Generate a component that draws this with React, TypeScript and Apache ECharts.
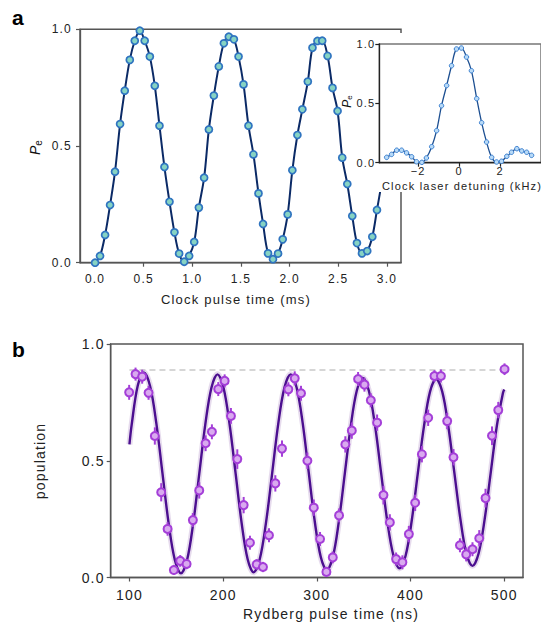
import React, { useEffect, useRef } from 'react';
import * as echarts from 'echarts';

const FONT = '"Liberation Sans", Arial, sans-serif';

// ---- Panel a: clock Rabi oscillation ----
const clockTimeMs = [0.0, 0.051, 0.103, 0.154, 0.205, 0.257, 0.305, 0.357, 0.408, 0.46, 0.51, 0.563, 0.614, 0.662, 0.713, 0.765, 0.816, 0.864, 0.916, 0.967, 1.019, 1.067, 1.121, 1.17, 1.221, 1.272, 1.324, 1.375, 1.427, 1.475, 1.526, 1.577, 1.628, 1.68, 1.727, 1.778, 1.829, 1.881, 1.929, 1.98, 2.028, 2.08, 2.131, 2.187, 2.235, 2.286, 2.335, 2.39, 2.441, 2.493, 2.541, 2.593, 2.644, 2.692, 2.744, 2.798, 2.85, 2.898];
const clockPe = [0.0, 0.029, 0.119, 0.247, 0.39, 0.594, 0.737, 0.869, 0.951, 0.994, 0.951, 0.883, 0.758, 0.587, 0.41, 0.261, 0.13, 0.039, 0.004, 0.029, 0.089, 0.236, 0.364, 0.571, 0.716, 0.841, 0.94, 0.968, 0.957, 0.883, 0.764, 0.587, 0.464, 0.297, 0.166, 0.04, 0.015, 0.039, 0.1, 0.207, 0.396, 0.547, 0.657, 0.776, 0.921, 0.95, 0.951, 0.886, 0.749, 0.65, 0.45, 0.337, 0.2, 0.084, 0.04, 0.05, 0.111, 0.226];
const clockCurveTailT = [2.95];
const clockCurveTailP = [0.35];
const clockTicks = [0, 0.5, 1.0, 1.5, 2.0, 2.5, 3.0];

// ---- Panel a inset: detuning scan ----
const detuningKHz = [-3.54, -3.3, -3.05, -2.81, -2.57, -2.32, -2.08, -1.82, -1.6, -1.34, -1.1, -0.86, -0.61, -0.37, -0.13, 0.11, 0.36, 0.6, 0.86, 1.1, 1.34, 1.59, 1.83, 2.07, 2.33, 2.56, 2.82, 3.06, 3.3, 3.54];
const detuningPe = [0.045, 0.07, 0.105, 0.105, 0.083, 0.05, 0.008, 0.003, 0.04, 0.135, 0.27, 0.48, 0.65, 0.817, 0.958, 0.966, 0.89, 0.775, 0.54, 0.337, 0.174, 0.045, 0.006, 0.012, 0.054, 0.088, 0.118, 0.099, 0.088, 0.062];
const detuningTicks = [-2, 0, 2];

// ---- Panel b: Rydberg Rabi oscillation ----
const rydTimeNs = [99.7, 106.5, 113.6, 120.4, 127.1, 133.9, 140.7, 147.4, 154.2, 161.0, 167.7, 174.5, 181.3, 188.0, 194.8, 201.6, 208.3, 215.1, 221.9, 228.6, 235.8, 242.5, 248.9, 255.7, 262.8, 269.6, 276.4, 283.1, 289.9, 296.7, 303.4, 310.2, 317.0, 323.7, 330.4, 337.3, 344.0, 350.8, 357.6, 364.3, 371.1, 377.9, 384.6, 391.3, 398.2, 404.9, 412.1, 418.8, 425.5, 432.4, 439.1, 445.8, 452.7, 459.4, 466.1, 473.3, 480.0, 486.9, 493.6, 500.3];
const rydPop = [0.793, 0.871, 0.86, 0.791, 0.606, 0.365, 0.208, 0.032, 0.071, 0.058, 0.246, 0.373, 0.575, 0.624, 0.807, 0.842, 0.692, 0.507, 0.31, 0.149, 0.056, 0.045, 0.181, 0.403, 0.552, 0.806, 0.853, 0.789, 0.5, 0.299, 0.165, 0.024, 0.086, 0.266, 0.57, 0.629, 0.85, 0.826, 0.759, 0.663, 0.353, 0.236, 0.079, 0.065, 0.186, 0.32, 0.528, 0.684, 0.863, 0.863, 0.67, 0.515, 0.138, 0.099, 0.121, 0.168, 0.34, 0.607, 0.717, 0.892];
const rydErr = [0.032, 0.028, 0.03, 0.03, 0.037, 0.039, 0.029, 0.02, 0.025, 0.022, 0.03, 0.035, 0.034, 0.032, 0.03, 0.028, 0.034, 0.042, 0.035, 0.03, 0.022, 0.022, 0.03, 0.035, 0.035, 0.03, 0.03, 0.032, 0.035, 0.035, 0.03, 0.02, 0.025, 0.03, 0.035, 0.035, 0.03, 0.03, 0.03, 0.035, 0.04, 0.035, 0.028, 0.03, 0.035, 0.035, 0.035, 0.035, 0.025, 0.028, 0.035, 0.035, 0.03, 0.03, 0.03, 0.035, 0.04, 0.04, 0.035, 0.025];
const rydFitT = [100, 102.4, 108.9, 115.4, 122.0, 128.6, 135.2, 141.8, 148.4, 155.0, 161.5, 168.0, 174.5, 181.0, 187.5, 194.0, 200.4, 206.8, 213.3, 219.7, 226.1, 232.5, 239.1, 245.7, 252.3, 258.8, 265.4, 272.0, 278.4, 284.9, 291.3, 297.7, 304.2, 310.6, 317.0, 323.4, 329.8, 336.2, 342.6, 349.0, 355.5, 362.1, 368.6, 375.1, 381.7, 388.2, 394.7, 401.2, 407.7, 414.3, 420.8, 427.3, 433.8, 440.2, 446.7, 453.2, 459.6, 466.1, 472.6, 479.1, 485.6, 492.1, 498.6, 500];
const rydFitV = [0.57, 0.655, 0.822, 0.878, 0.82, 0.663, 0.448, 0.233, 0.076, 0.018, 0.075, 0.231, 0.444, 0.657, 0.813, 0.87, 0.813, 0.658, 0.446, 0.234, 0.079, 0.022, 0.079, 0.234, 0.446, 0.658, 0.813, 0.87, 0.814, 0.661, 0.451, 0.242, 0.088, 0.032, 0.087, 0.238, 0.444, 0.649, 0.8, 0.855, 0.8, 0.651, 0.447, 0.243, 0.094, 0.039, 0.093, 0.242, 0.445, 0.647, 0.796, 0.85, 0.796, 0.65, 0.45, 0.25, 0.103, 0.05, 0.103, 0.25, 0.45, 0.65, 0.79, 0.805];
const rydRefLevel = 0.889;
const rydRefRange = [100, 500];
const rydTicks = [100, 200, 300, 400, 500];

const popTicks = [0, 0.5, 1.0];

const zip = (a: number[], b: number[]) => a.map((v, i) => [v, b[i]]);

function valueAxis(grid: number, min: number, max: number, ticks: number[], fmt: (v: number) => string, fontSize: number, margin: number, color: string, z = 0) {
  return {
    gridIndex: grid,
    type: 'value',
    min,
    max,
    z,
    axisLine: { show: true, onZero: false, lineStyle: { color, width: 1.3 } },
    axisTick: { show: true, length: 4, lineStyle: { color, width: 1.2 }, customValues: ticks },
    axisLabel: { customValues: ticks, formatter: fmt, fontSize, color: '#222', margin, fontFamily: FONT },
    splitLine: { show: false },
  };
}

function buildOption() {
  const fmt1 = (v: number) => v.toFixed(1);
  const fmtMinus = (v: number) => (v < 0 ? '\u2212' + Math.abs(v) : String(v));
  const peRich = (size: number) => ({
    p: { fontStyle: 'italic', fontSize: size, fontFamily: FONT, fill: '#111', color: '#111' },
    s: { fontSize: Math.round(size * 0.7), fontFamily: FONT, padding: [Math.round(size * 0.45), 0, 0, 0], fill: '#111', color: '#111' },
  });
  return {
    animation: false,
    backgroundColor: '#fff',
    grid: [
      { left: 80, top: 29.3, width: 321, height: 233.4, show: true, borderColor: '#555', borderWidth: 1.5 },
      { left: 379.3, top: 44, width: 165, height: 118.7, show: true, borderColor: '#777', borderWidth: 1.5, z: 20 },
      { left: 110.7, top: 344, width: 412.3, height: 233.5, show: true, borderColor: '#555', borderWidth: 1.5 },
    ],
    xAxis: [
      valueAxis(0, -0.155, 3.145, clockTicks, fmt1, 12, 10, '#555'),
      valueAxis(1, -3.9, 4.0, detuningTicks, fmtMinus, 11, 3, '#222', 20),
      valueAxis(2, 80, 520, rydTicks, (v: number) => String(v), 14, 10, '#555'),
    ],
    yAxis: [
      valueAxis(0, 0, 1, popTicks, fmt1, 12, 8, '#555'),
      valueAxis(1, 0, 1, popTicks, fmt1, 11, 4, '#222', 20),
      valueAxis(2, 0, 1, popTicks, fmt1, 14, 6, '#555'),
    ],
    graphic: [
      { type: 'rect', z: 10, shape: { x: 353, y: 33, width: 188, height: 159 }, style: { fill: '#fff' } },
      { type: 'text', z: 30, x: 12, y: 17, style: { text: 'a', fontSize: 21, fontWeight: 'bold', fontFamily: FONT, fill: '#000', align: 'left', verticalAlign: 'middle' } },
      { type: 'text', z: 30, x: 12, y: 349, style: { text: 'b', fontSize: 21, fontWeight: 'bold', fontFamily: FONT, fill: '#000', align: 'left', verticalAlign: 'middle' } },
      { type: 'text', z: 30, x: 35, y: 147, rotation: Math.PI / 2, style: { text: '{p|P}{s|e}', rich: peRich(14), align: 'center', verticalAlign: 'middle' } },
      { type: 'text', z: 30, x: 236, y: 299, style: { text: 'Clock pulse time (ms)', fontSize: 13, fontFamily: FONT, fill: '#222', align: 'center', verticalAlign: 'middle' } },
      { type: 'text', z: 30, x: 347, y: 101, rotation: Math.PI / 2, style: { text: '{p|P}{s|e}', rich: peRich(12), align: 'center', verticalAlign: 'middle' } },
      { type: 'text', z: 30, x: 462, y: 186, style: { text: 'Clock laser detuning (kHz)', fontSize: 11, fontFamily: FONT, fill: '#222', align: 'center', verticalAlign: 'middle' } },
      { type: 'text', z: 30, x: 40, y: 461, rotation: Math.PI / 2, style: { text: 'population', fontSize: 14, fontFamily: FONT, fill: '#222', align: 'center', verticalAlign: 'middle' } },
      { type: 'text', z: 30, x: 331, y: 614, style: { text: 'Rydberg pulse time (ns)', fontSize: 14, fontFamily: FONT, fill: '#222', align: 'center', verticalAlign: 'middle' } },
    ],
    series: [
      {
        type: 'line', xAxisIndex: 0, yAxisIndex: 0, z: 2,
        data: zip(clockTimeMs.concat(clockCurveTailT), clockPe.concat(clockCurveTailP)),
        smooth: 0.35, showSymbol: false, lineStyle: { color: '#0b2a66', width: 2 },
      },
      {
        type: 'scatter', xAxisIndex: 0, yAxisIndex: 0, z: 3,
        data: zip(clockTimeMs, clockPe), symbolSize: 7,
        itemStyle: { color: '#86d3c3', borderColor: '#2f74c0', borderWidth: 1.7, opacity: 1 },
      },
      {
        type: 'line', xAxisIndex: 1, yAxisIndex: 1, z: 21,
        data: zip(detuningKHz, detuningPe), smooth: 0.35, showSymbol: false,
        lineStyle: { color: '#1d4f91', width: 1.3 },
      },
      {
        type: 'scatter', xAxisIndex: 1, yAxisIndex: 1, z: 22,
        data: zip(detuningKHz, detuningPe), symbolSize: 4.5,
        itemStyle: { color: '#b8daf7', borderColor: '#3a7fd0', borderWidth: 1, opacity: 1 },
      },
      {
        type: 'line', xAxisIndex: 2, yAxisIndex: 2, z: 1,
        data: [[rydRefRange[0], rydRefLevel], [rydRefRange[1], rydRefLevel]], showSymbol: false,
        lineStyle: { color: '#d6d6d6', width: 2, type: [6, 4] },
      },
      {
        type: 'line', xAxisIndex: 2, yAxisIndex: 2, z: 2,
        data: zip(rydFitT, rydFitV), smooth: 0.35, showSymbol: false,
        lineStyle: { color: 'rgba(200,175,215,0.45)', width: 6 },
      },
      {
        type: 'line', xAxisIndex: 2, yAxisIndex: 2, z: 3,
        data: zip(rydFitT, rydFitV), smooth: 0.35, showSymbol: false,
        lineStyle: { color: '#4b0f8f', width: 2.4 },
      },
      {
        type: 'custom', xAxisIndex: 2, yAxisIndex: 2, z: 4,
        data: rydTimeNs.map((t, i) => [t, rydPop[i], rydErr[i]]),
        encode: { x: 0, y: 1 },
        renderItem: (_params: any, api: any) => {
          const x = api.value(0), y = api.value(1), e = api.value(2);
          const p1 = api.coord([x, y - e]);
          const p2 = api.coord([x, y + e]);
          return { type: 'line', shape: { x1: p1[0], y1: p1[1], x2: p2[0], y2: p2[1] }, style: { stroke: '#a43fd8', lineWidth: 2 } };
        },
      },
      {
        type: 'scatter', xAxisIndex: 2, yAxisIndex: 2, z: 5,
        data: zip(rydTimeNs, rydPop), symbolSize: 8,
        itemStyle: { color: '#d9aaef', borderColor: '#a43fd8', borderWidth: 2, opacity: 1 },
      },
    ],
  };
}

export default function App() {
  const ref = useRef<HTMLDivElement>(null);
  useEffect(() => {
    if (!ref.current) return;
    const chart = echarts.init(ref.current, null, { renderer: 'svg', width: 541, height: 622 });
    chart.setOption(buildOption() as any);
    return () => chart.dispose();
  }, []);
  return (
    <div className="chartbox" style={{ position: 'absolute', left: 0, top: 0, width: 541, height: 622, background: '#fff' }}>
      <style>{`.chartbox text { letter-spacing: 1.2px; }`}</style>
      <div ref={ref} style={{ width: 541, height: 622 }} />
    </div>
  );
}
